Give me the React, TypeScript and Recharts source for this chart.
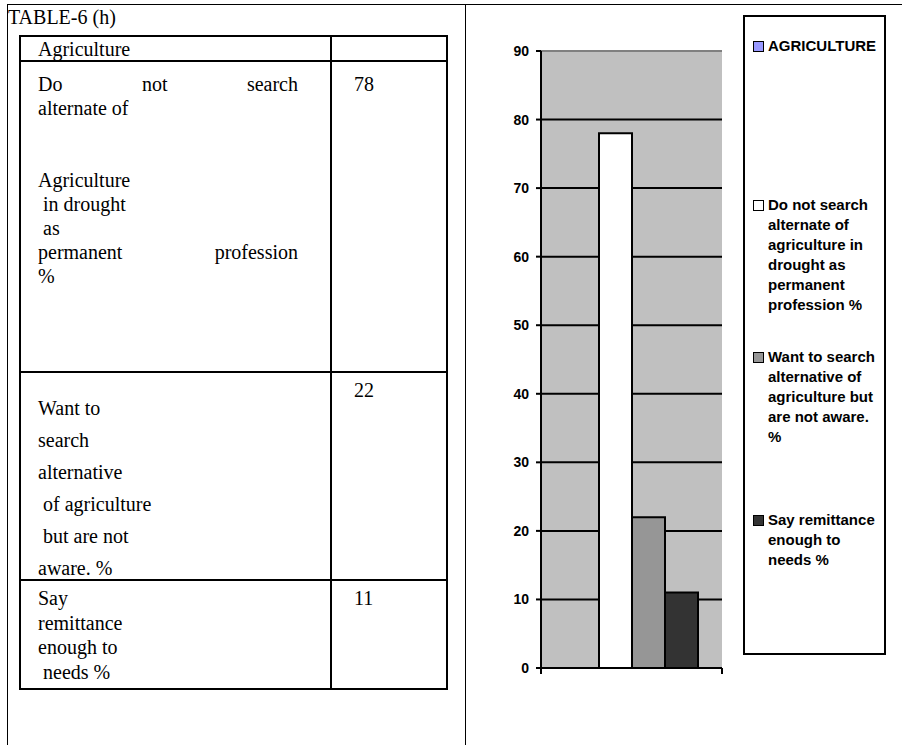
import React from "react";
import { BarChart, Bar, XAxis, YAxis, CartesianGrid, ReferenceLine } from "recharts";

// ---- table data ----
const TABLE_TITLE = "TABLE-6 (h)";
const TABLE_HEADER = "Agriculture";
// printed lines of the left column, per row ("" keeps an empty line)
const ROW_LINES = [
  ["Do not search", "alternate of", "", "", "Agriculture", " in drought", " as", "permanent profession", "%"],
  ["Want to", "search", "alternative", " of agriculture", " but are not", "aware. %"],
  ["Say", "remittance", "enough to", " needs %"],
];
const ROW_VALUES = [78, 22, 11];
// lines that are stretched across the cell
const JUSTIFIED = ["Do not search", "permanent profession"];

// ---- chart data ----
const CATEGORIES = ["Agriculture"];
const SERIES = [
  "AGRICULTURE",
  "Do not search alternate of agriculture in drought as permanent profession %",
  "Want to search alternative of agriculture but are not aware. %",
  "Say remittance enough to needs %",
];
const SERIES_VALUES = [null, ...ROW_VALUES];
const SERIES_COLORS = ["#9999ff", "#ffffff", "#969696", "#333333"];
const Y_TICKS = [0, 10, 20, 30, 40, 50, 60, 70, 80, 90];

const data = CATEGORIES.map((c) => {
  const row: Record<string, string | number | null> = { name: c };
  SERIES.forEach((_, i) => (row["s" + i] = SERIES_VALUES[i]));
  return row;
});

// layout
const TABLE_LEFT = 20, TABLE_RIGHT = 447, COL_X = 331;
const ROW_EDGES = [36, 61, 372, 580, 689];
const VALUE_TOP = [72, 378, 586];        // top of the number in each row
const TEXT_TOP = [72, 396, 586];         // top of the first text line
const TEXT_LINE_H = [24, 32, 24.5];      // row 3 is set with wider spacing
const LEGEND_TOPS = [36, 195, 347, 510];

const serif = "'Liberation Serif', 'Times New Roman', serif";
const sans = "'Liberation Sans', Arial, sans-serif";

const hLine = (x1: number, x2: number, y: number, w = 2, key?: string) => (
  <div key={key} style={{ position: "absolute", left: x1, top: y - w / 2, width: x2 - x1, height: w, background: "#000" }} />
);
const vLine = (x: number, y1: number, y2: number, w = 2, key?: string) => (
  <div key={key} style={{ position: "absolute", left: x - w / 2, top: y1, width: w, height: y2 - y1, background: "#000" }} />
);

// category axis ticks sit on the band edges, not the band centre
const EdgeTicks = (props: any) => {
  const { x, y, payload } = props;
  const half = payload?.offset ?? 0;
  return (
    <g>
      {[x - half, x + half].map((px, i) => (
        <line key={i} x1={px} x2={px} y1={y - 6} y2={y} stroke="#000" strokeWidth={2} />
      ))}
    </g>
  );
};

export default function App() {
  return (
    <div style={{ position: "absolute", left: 0, top: 0, width: 902, height: 745, background: "#fff", overflow: "hidden" }}>
      {/* outer frame */}
      {hLine(7, 902, 4, 1)}
      {vLine(7, 4, 745, 1)}
      {vLine(465, 4, 745, 1)}

      <div style={{ position: "absolute", left: 8, top: 5, fontFamily: serif, fontSize: 20, lineHeight: "24px" }}>{TABLE_TITLE}</div>

      {/* table grid */}
      {ROW_EDGES.map((y, i) => hLine(TABLE_LEFT - 1, TABLE_RIGHT + 1, y, 2, "r" + i))}
      {vLine(TABLE_LEFT, ROW_EDGES[0], ROW_EDGES[4], 2)}
      {vLine(COL_X, ROW_EDGES[0], ROW_EDGES[4], 2)}
      {vLine(TABLE_RIGHT, ROW_EDGES[0], ROW_EDGES[4], 2)}

      <div style={{ position: "absolute", left: 38, top: 37, fontFamily: serif, fontSize: 20, lineHeight: "24px" }}>{TABLE_HEADER}</div>

      {ROW_LINES.map((lines, r) => (
        <div key={r}>
          {lines.map((t, j) => {
            const just = JUSTIFIED.includes(t);
            return (
              <div
                key={j}
                style={{
                  position: "absolute",
                  left: 38,
                  top: TEXT_TOP[r] + j * TEXT_LINE_H[r],
                  width: just ? 260 : undefined,
                  fontFamily: serif,
                  fontSize: 20,
                  lineHeight: "24px",
                  whiteSpace: just ? "normal" : "pre",
                  textAlign: just ? "justify" : "left",
                  textAlignLast: just ? "justify" : "auto",
                }}
              >
                {t}
              </div>
            );
          })}
          <div style={{ position: "absolute", left: 354, top: VALUE_TOP[r], fontFamily: serif, fontSize: 20, lineHeight: "24px" }}>
            {ROW_VALUES[r]}
          </div>
        </div>
      ))}

      {/* chart */}
      <div style={{ position: "absolute", left: 470, top: 0 }}>
        <BarChart width={420} height={745} data={data} margin={{ top: 51, right: 168, bottom: 0, left: 0 }} barGap={0} barSize={33}>
          <CartesianGrid vertical={false} stroke="#000" strokeWidth={2} fill="#c0c0c0" fillOpacity={1} />
          <XAxis
            dataKey="name"
            height={77}
            axisLine={{ stroke: "#000", strokeWidth: 2 }}
            tickLine={false}
            tickSize={6}
            tickMargin={0}
            tick={<EdgeTicks />}
          />
          <YAxis
            width={71}
            domain={[0, 90]}
            ticks={Y_TICKS}
            interval={0}
            axisLine={{ stroke: "#000", strokeWidth: 2 }}
            tickLine={{ stroke: "#000", strokeWidth: 2 }}
            tickSize={5}
            tickMargin={7}
            tick={{ fill: "#000", fontFamily: sans, fontWeight: "bold", fontSize: 14 }}
          />
          <YAxis yAxisId="frame" orientation="right" width={0} domain={[0, 90]} tick={false} tickLine={false} axisLine={{ stroke: "#808080", strokeWidth: 2 }} />
          {SERIES.map((s, i) => (
            <Bar key={s} dataKey={"s" + i} name={s} fill={SERIES_COLORS[i]} stroke="#000" strokeWidth={2} isAnimationActive={false} />
          ))}
          <ReferenceLine y={90} stroke="#808080" strokeWidth={2} />
        </BarChart>
      </div>

      {/* legend */}
      <div style={{ position: "absolute", left: 743, top: 15, width: 143, height: 640, border: "2px solid #000", boxSizing: "border-box" }} />
      {SERIES.map((s, i) => (
        <div key={s} style={{ position: "absolute", left: 753, top: LEGEND_TOPS[i], width: 132 }}>
          <div
            style={{
              position: "absolute",
              left: 0,
              top: 5,
              width: 11,
              height: 11,
              boxSizing: "border-box",
              border: "1.5px solid #000",
              background: SERIES_COLORS[i],
            }}
          />
          <div style={{ marginLeft: 15, width: 116, fontFamily: sans, fontWeight: "bold", fontSize: 15, lineHeight: "20px", color: "#000" }}>{s}</div>
        </div>
      ))}
    </div>
  );
}
